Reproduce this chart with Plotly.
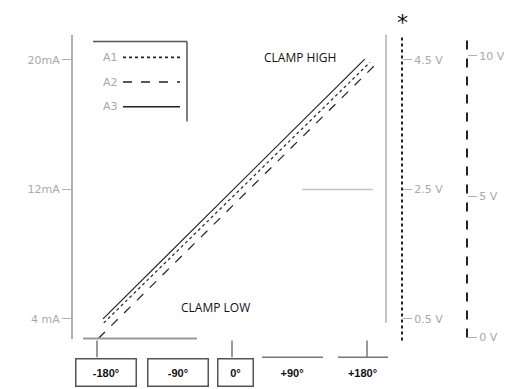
import plotly.graph_objects as go

# ---- data ----
angle_ticks = [-180, -90, 0, 90, 180]
angle_labels = ["-180°", "-90°", "0°", "+90°", "+180°"]
ma_ticks = [4, 12, 20]
ma_labels = ["4 mA", "12mA", "20mA"]
v1_ticks = [0.5, 2.5, 4.5]
v1_labels = ["0.5 V", "2.5 V", "4.5 V"]
v2_ticks = [0, 5, 10]
v2_labels = ["0 V", "5 V", "10 V"]

a1_angle = [-171, 184]
a1_ma = [3.75, 19.85]
a2_angle = [-178, 190]
a2_ma = [2.8, 19.65]
a3_angle = [-172, 177]
a3_ma = [4.0, 20.05]

series = [("A1", a1_angle, a1_ma, "dot"), ("A2", a2_angle, a2_ma, "dash"), ("A3", a3_angle, a3_ma, "solid")]

OFF = 8  # page body margin
W, H = 516 - OFF, 389 - OFF
def px(xp):
    return (xp - OFF) / W
def py(yp):
    return (H - (yp - OFF)) / H

GRAY = "#a8a8a8"
FONT = "DejaVu Sans"

fig = go.Figure()
for name, xs, ys, dash in series:
    fig.add_trace(go.Scatter(x=xs, y=ys, mode="lines", name=name,
                             line=dict(color="#222222", width=1.2, dash=dash),
                             showlegend=False, cliponaxis=False))

ydom = [py(343), py(35)]
fig.update_layout(
    width=W, height=H, margin=dict(l=0, r=0, t=0, b=0),
    paper_bgcolor="white", plot_bgcolor="white",
    xaxis=dict(domain=[0, 1], range=[-298.7, 378.7], visible=False),
    yaxis=dict(domain=ydom, range=[2.78, 21.56], anchor="free", position=px(72),
               showgrid=False, zeroline=False, showline=True, linecolor="#b0b0b0", linewidth=2,
               ticks="outside", ticklen=9, tickcolor="#b0b0b0", tickwidth=1,
               tickvals=ma_ticks, ticktext=ma_labels,
               tickfont=dict(family=FONT, size=11, color=GRAY)),
    yaxis2=dict(domain=ydom, range=[0.195, 4.89], anchor="free", position=px(402), side="right",
                overlaying="y", showgrid=False, zeroline=False, showline=False,
                ticks="outside", ticklen=9, tickcolor="#b0b0b0",
                tickvals=v1_ticks, ticktext=v1_labels,
                tickfont=dict(family=FONT, size=11, color=GRAY)),
    yaxis3=dict(domain=ydom, range=[-0.053, 10.75], anchor="free", position=px(467), side="right",
                overlaying="y", showgrid=False, zeroline=False, showline=False,
                ticks="outside", ticklen=9, tickcolor="#b0b0b0",
                tickvals=v2_ticks, ticktext=v2_labels,
                tickfont=dict(family=FONT, size=11, color=GRAY)),
)
fig.add_trace(go.Scatter(x=[None], y=[None], yaxis="y2", showlegend=False))
fig.add_trace(go.Scatter(x=[None], y=[None], yaxis="y3", showlegend=False))

shapes = []
shapes.append(dict(type="line", xref="paper", yref="paper", x0=px(83), x1=px(197), y0=py(343), y1=py(343),
                   line=dict(color="#999999", width=2)))
shapes.append(dict(type="line", xref="paper", yref="paper", x0=px(386), x1=px(386), y0=py(327), y1=py(35),
                   line=dict(color="#c4c4c4", width=2)))
shapes.append(dict(type="line", xref="paper", yref="y", x0=px(302), x1=px(373), y0=12, y1=12,
                   line=dict(color="#c4c4c4", width=1.5)))
shapes.append(dict(type="line", xref="paper", yref="paper", x0=px(402), x1=px(402), y0=py(345), y1=py(35),
                   line=dict(color="#222222", width=2, dash="dot")))
shapes.append(dict(type="line", xref="paper", yref="paper", x0=px(467), x1=px(467), y0=py(342), y1=py(35),
                   line=dict(color="#222222", width=2, dash="dash")))
shapes.append(dict(type="line", xref="paper", yref="paper", x0=px(93), x1=px(187), y0=py(42), y1=py(42),
                   line=dict(color="#555555", width=1.5)))
shapes.append(dict(type="line", xref="paper", yref="paper", x0=px(187), x1=px(187), y0=py(42), y1=py(123),
                   line=dict(color="#555555", width=1.5)))
for i, (name, xs, ys, dash) in enumerate(series):
    yy = py(58 + 25 * i)
    shapes.append(dict(type="line", xref="paper", yref="paper", x0=px(123), x1=px(180), y0=yy, y1=yy,
                       line=dict(color="#222222", width=1.6, dash=dash)))
for a in [-180, 0, 180]:
    shapes.append(dict(type="line", xref="x", yref="paper", x0=a, x1=a, y0=py(345), y1=py(362),
                       line=dict(color="#777777", width=1.5)))
for x0, x1 in [(262, 323), (338, 388)]:
    shapes.append(dict(type="line", xref="paper", yref="paper", x0=px(x0), x1=px(x1), y0=py(362), y1=py(362),
                       line=dict(color="#777777", width=1.5)))
fig.update_layout(shapes=shapes)

def note(x, y, text, size, color, family, yanchor="middle"):
    return dict(xref="paper", yref="paper", x=px(x), y=py(y), text=text, showarrow=False,
                xanchor="center", yanchor=yanchor, font=dict(family=family, size=size, color=color))

ann = []
for i, (name, xs, ys, dash) in enumerate(series):
    ann.append(note(110, 58 + 25 * i, name, 11, GRAY, FONT))
ann.append(note(300, 58, "CLAMP HIGH", 12, "#111111", "Open Sans"))
ann.append(note(215, 311, "CLAMP LOW", 12, "#111111", "Open Sans"))
ann.append(note(402, 8, "*", 22, "#111111", "DejaVu Sans", yanchor="top"))
shifts = [9, 13, 3, -8, -4]
widths = [55, 55, 30, 55, 50]
bordered = [True, True, True, False, False]
for a, lab, s, w, b in zip(angle_ticks, angle_labels, shifts, widths, bordered):
    ann.append(dict(xref="x", yref="paper", x=a, xshift=s, y=py(377), text="<b>" + lab + "</b>",
                    showarrow=False, width=w, height=22, borderpad=2, xanchor="center", yanchor="middle",
                    bordercolor="#555555" if b else "rgba(0,0,0,0)", borderwidth=1.5,
                    font=dict(family="Liberation Sans", size=11, color="#111111")))
fig.update_layout(annotations=ann)

fig.write_html("out.html")
